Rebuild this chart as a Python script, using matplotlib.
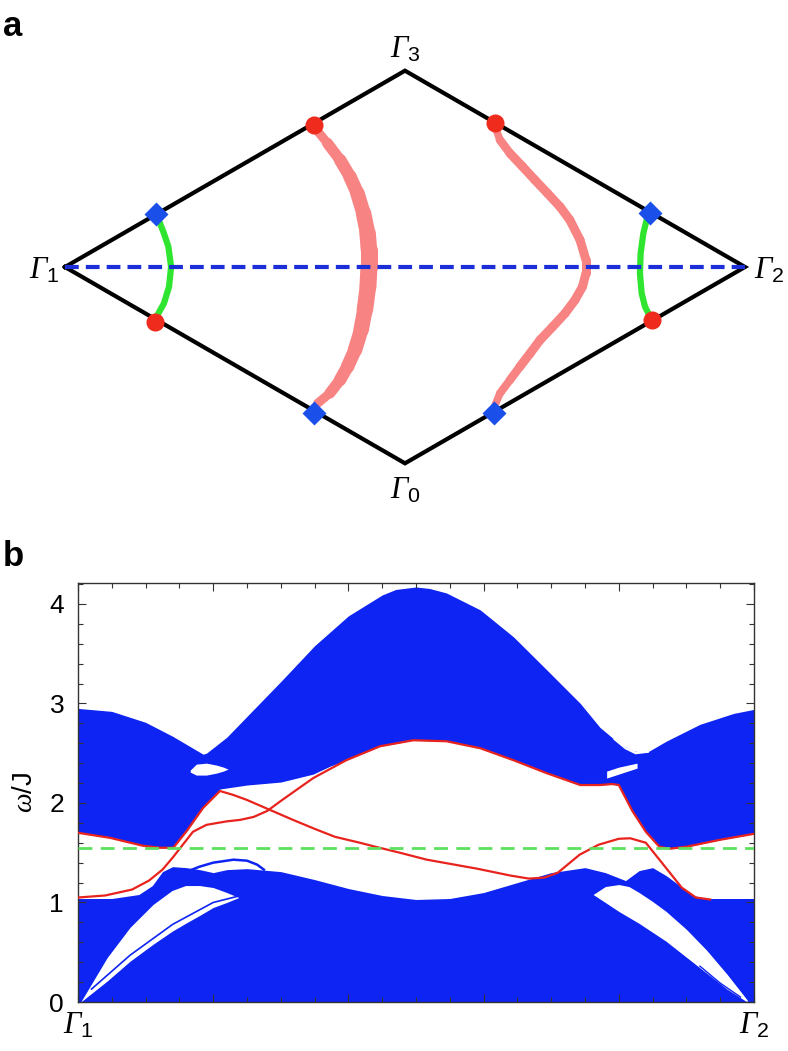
import numpy as np
import matplotlib
matplotlib.use("Agg")
import matplotlib.pyplot as plt
from matplotlib.collections import LineCollection

plt.rcParams['font.family'] = ['Liberation Sans', 'DejaVu Sans']
plt.rcParams['mathtext.fontset'] = 'custom'
plt.rcParams['mathtext.it'] = 'Liberation Serif:italic'
plt.rcParams['mathtext.rm'] = 'Liberation Serif:italic'
plt.rcParams['mathtext.sf'] = 'Liberation Sans'

# ---------------- Panel a data (Brillouin zone, Gamma1-Gamma2 half width = 1) ----------------
bz_x = [-1.0, 0.0, 1.0, 0.0, -1.0]
bz_y = [0.0, 0.5774, 0.0, -0.5774, 0.0]
bz_labels = ['$\\Gamma_{\\mathsf{1}}$', '$\\Gamma_{\\mathsf{3}}$',
             '$\\Gamma_{\\mathsf{2}}$', '$\\Gamma_{\\mathsf{0}}$']

pink_left_x = [-0.268, -0.228, -0.191, -0.162, -0.140, -0.122, -0.110, -0.106, -0.106, -0.109,
               -0.118, -0.129, -0.147, -0.169, -0.191, -0.221, -0.257]
pink_left_y = [0.413, 0.364, 0.315, 0.266, 0.217, 0.158, 0.099, 0.050, 0.001, -0.058,
               -0.126, -0.185, -0.244, -0.293, -0.332, -0.371, -0.401]
pink_left_w = [8, 10, 12, 13, 14, 15, 16, 17, 17, 17, 16, 15, 14, 13, 12, 10, 8]

pink_right_x = [0.265, 0.279, 0.309, 0.346, 0.382, 0.419, 0.456, 0.485, 0.515, 0.532, 0.532,
                0.522, 0.500, 0.471, 0.434, 0.397, 0.368, 0.338, 0.309, 0.279, 0.265]
pink_right_y = [0.413, 0.374, 0.334, 0.295, 0.256, 0.217, 0.177, 0.138, 0.079, 0.021, -0.019,
                -0.058, -0.097, -0.136, -0.176, -0.215, -0.254, -0.293, -0.332, -0.372, -0.406]
pink_right_w = [7, 8, 9, 9, 9, 9, 9, 9, 9, 9, 9, 9, 9, 9, 9, 9, 9, 9, 8, 8, 7]

green_left_x = [-0.731, -0.709, -0.696, -0.688, -0.694, -0.709, -0.728, -0.735]
green_left_y = [0.155, 0.099, 0.060, 0.001, -0.058, -0.107, -0.141, -0.161]
green_right_x = [0.721, 0.713, 0.701, 0.693, 0.691, 0.696, 0.706, 0.721, 0.725]
green_right_y = [0.158, 0.148, 0.099, 0.040, -0.019, -0.077, -0.117, -0.146, -0.156]

red_dots_x = [-0.268, 0.265, -0.735, 0.725]
red_dots_y = [0.418, 0.423, -0.161, -0.156]
blue_diam_x = [-0.731, 0.721, -0.269, 0.262]
blue_diam_y = [0.155, 0.158, -0.428, -0.428]

# ---------------- Panel b data ----------------
# upper bulk continuum
up_x = [0, 0.05, 0.10, 0.14, 0.17, 0.185, 0.19, 0.22, 0.25, 0.30, 0.35, 0.40, 0.45, 0.47, 0.50, 0.52,
        0.545, 0.595, 0.644, 0.693, 0.743, 0.772, 0.80, 0.822, 0.842, 0.87, 0.92, 0.97, 1.0]
up_top = [2.95, 2.92, 2.81, 2.67, 2.55, 2.49, 2.50, 2.66, 2.87, 3.22, 3.58, 3.88, 4.09, 4.145, 4.17, 4.155,
          4.11, 3.94, 3.67, 3.34, 3.00, 2.76, 2.60, 2.52, 2.51, 2.62, 2.79, 2.90, 2.94]
upb_x = [0, 0.047, 0.096, 0.121, 0.141, 0.161, 0.185, 0.21, 0.25, 0.30, 0.348, 0.373, 0.397, 0.447,
         0.496, 0.545, 0.595, 0.644, 0.693, 0.743, 0.772, 0.79, 0.80, 0.82, 0.84, 0.86, 0.875, 0.9, 0.95, 1.0]
up_bot = [1.70, 1.65, 1.57, 1.55, 1.55, 1.72, 1.95, 2.14, 2.18, 2.21, 2.29, 2.37, 2.43, 2.57,
          2.63, 2.62, 2.55, 2.43, 2.30, 2.18, 2.18, 2.19, 2.18, 1.92, 1.71, 1.56, 1.54, 1.56, 1.63, 1.69]
# gaps inside the upper continuum
hole1_x = [0.166, 0.175, 0.19, 0.205, 0.215, 0.222]
hole1_lo = [2.31, 2.28, 2.28, 2.30, 2.32, 2.34]
hole1_hi = [2.33, 2.39, 2.40, 2.38, 2.36, 2.34]
hole2_x = [0.782, 0.80, 0.827]
hole2_lo = [2.25, 2.29, 2.35]
hole2_hi = [2.32, 2.36, 2.40]
slit_x = [0.794, 0.81, 0.825, 0.843]
slit_y = [2.64, 2.55, 2.50, 2.515]

# lower bulk continuum
lo_x = [0, 0.05, 0.09, 0.11, 0.125, 0.14, 0.16, 0.18, 0.20, 0.22, 0.25, 0.30, 0.35, 0.40, 0.45, 0.50,
        0.55, 0.60, 0.65, 0.70, 0.75, 0.78, 0.81, 0.83, 0.85, 0.87, 0.89, 0.91, 0.93, 0.96, 1.0]
lo_top = [1.04, 1.04, 1.08, 1.17, 1.31, 1.36, 1.35, 1.33, 1.30, 1.33, 1.34, 1.31, 1.23, 1.14, 1.07, 1.03,
          1.04, 1.10, 1.20, 1.30, 1.35, 1.30, 1.22, 1.32, 1.35, 1.27, 1.17, 1.07, 1.04, 1.04, 1.04]
arc_x = [0.165, 0.18, 0.20, 0.23, 0.25, 0.265, 0.275]
arc_y = [1.32, 1.36, 1.40, 1.43, 1.42, 1.38, 1.33]
# gaps inside the lower continuum
wl_x = [0.004, 0.043, 0.077, 0.111, 0.139, 0.159, 0.18, 0.20, 0.22, 0.238]
wl_hi = [0.0, 0.445, 0.75, 0.98, 1.12, 1.17, 1.17, 1.15, 1.10, 1.05]
wl_lo = [0.0, 0.21, 0.41, 0.58, 0.71, 0.79, 0.87, 0.95, 1.00, 1.05]
wl_line_x = [0.02, 0.077, 0.14, 0.20, 0.235]
wl_line_y = [0.13, 0.47, 0.78, 1.00, 1.06]
wr_x = [0.762, 0.78, 0.80, 0.815, 0.83, 0.85, 0.87, 0.90, 0.93, 0.96, 0.99]
wr_hi = [1.08, 1.16, 1.18, 1.16, 1.10, 1.01, 0.91, 0.73, 0.52, 0.28, 0.02]
wr_lo = [1.08, 1.00, 0.91, 0.85, 0.79, 0.70, 0.61, 0.45, 0.29, 0.13, 0.0]
wr_line_x = [0.92, 0.95, 0.98]
wr_line_y = [0.36, 0.19, 0.05]

# edge states
edgeA_x = [0, 0.047, 0.096, 0.121, 0.141, 0.161, 0.185, 0.21, 0.23, 0.25, 0.284, 0.318, 0.35, 0.38,
           0.417, 0.44, 0.476, 0.516, 0.59, 0.64, 0.667, 0.69, 0.71, 0.742, 0.77, 0.80, 0.817, 0.84,
           0.866, 0.893, 0.914, 0.935]
edgeA_y = [1.70, 1.65, 1.57, 1.55, 1.55, 1.72, 1.95, 2.12, 2.08, 2.03, 1.93, 1.83, 1.74, 1.66,
           1.60, 1.56, 1.50, 1.43, 1.34, 1.27, 1.24, 1.25, 1.30, 1.48, 1.58, 1.64, 1.645, 1.60,
           1.38, 1.15, 1.05, 1.03]
edgeB_x = [0, 0.04, 0.08, 0.105, 0.125, 0.14, 0.155, 0.17, 0.19, 0.22, 0.24, 0.26, 0.28, 0.30, 0.325,
           0.348, 0.397, 0.447, 0.496, 0.545, 0.595, 0.644, 0.693, 0.743, 0.772, 0.79, 0.80, 0.82, 0.84,
           0.86, 0.875, 0.9, 0.95, 1.0]
edgeB_y = [1.05, 1.07, 1.13, 1.22, 1.33, 1.45, 1.58, 1.71, 1.78, 1.815, 1.83, 1.86, 1.92, 2.02, 2.14,
           2.25, 2.43, 2.57, 2.63, 2.62, 2.55, 2.43, 2.30, 2.18, 2.18, 2.19, 2.18, 1.92, 1.71,
           1.56, 1.54, 1.56, 1.63, 1.69]
fermi_level = 1.55

yticks = [0, 1, 2, 3, 4]
xtick_labels = ['$\\Gamma_{\\mathsf{1}}$', '$\\Gamma_{\\mathsf{2}}$']

# ---------------- figure ----------------
W, H = 788, 1051
fig = plt.figure(figsize=(W / 100, H / 100), dpi=100)

# panel a
axa = fig.add_axes([0, 1 - 520 / H, 1, 520 / H])
scale = 340.0
axa.set_xlim(-405 / scale, (W - 405) / scale)
axa.set_ylim(-(520 - 267) / scale, 267 / scale)
axa.axis('off')

axa.plot(bz_x, bz_y, color='black', lw=3.0, solid_joinstyle='miter', zorder=2)

def varwidth(ax, xs, ys, ws, color, z):
    pts = np.column_stack([xs, ys])
    segs = [pts[i:i + 2] for i in range(len(pts) - 1)]
    lw = [(ws[i] + ws[i + 1]) / 2 * 0.72 for i in range(len(pts) - 1)]
    lc = LineCollection(segs, linewidths=lw, colors=color, capstyle='round', joinstyle='round', zorder=z)
    ax.add_collection(lc)

varwidth(axa, pink_left_x, pink_left_y, pink_left_w, '#f78383', 3)
varwidth(axa, pink_right_x, pink_right_y, pink_right_w, '#f78383', 3)
axa.plot(green_left_x, green_left_y, color='#2fe52f', lw=4.5, solid_capstyle='round', zorder=3)
axa.plot(green_right_x, green_right_y, color='#2fe52f', lw=4.5, solid_capstyle='round', zorder=3)
axa.plot([bz_x[0], bz_x[2]], [0, 0], color='#1c2ed8', lw=3.0, dashes=(3.3, 1.7), zorder=4)
axa.plot(red_dots_x, red_dots_y, 'o', color='#ee2b1c', ms=13, mec='none', zorder=5)
axa.plot(blue_diam_x, blue_diam_y, 'D', color='#1b4fea', ms=12, mec='none', zorder=5)

fs_g = 22
axa.text(bz_x[0] - 0.015, bz_y[0] - 0.01, bz_labels[0], ha='right', va='center', fontsize=fs_g)
axa.text(bz_x[1], bz_y[1] + 0.018, bz_labels[1], ha='center', va='bottom', fontsize=fs_g)
axa.text(bz_x[2] + 0.025, bz_y[2] - 0.01, bz_labels[2], ha='left', va='center', fontsize=fs_g)
axa.text(bz_x[3], bz_y[3] - 0.035, bz_labels[3], ha='center', va='top', fontsize=fs_g)

fig.text(3 / W, 1 - 10 / H, 'a', fontsize=25, fontweight='bold', ha='left', va='top')
fig.text(3 / W, 1 - 540 / H, 'b', fontsize=25, fontweight='bold', ha='left', va='top')

# panel b
left, right, top, bottom = 78, 754, 583, 1002
axb = fig.add_axes([left / W, 1 - bottom / H, (right - left) / W, (bottom - top) / H])
blue = '#0e24f2'
axb.fill_between(up_x, 0, up_top, color=blue, lw=0, zorder=1)
axb.fill_between(upb_x, 0, up_bot, color='white', lw=0, zorder=1.1)
axb.fill_between(hole1_x, hole1_lo, hole1_hi, color='white', lw=0, zorder=1.2)
axb.fill_between(hole2_x, hole2_lo, hole2_hi, color='white', lw=0, zorder=1.2)
axb.plot(slit_x, slit_y, color='white', lw=1.6, zorder=1.2)

axb.fill_between(lo_x, 0, lo_top, color=blue, lw=0, zorder=1.3)
axb.plot(arc_x, arc_y, color=blue, lw=1.8, zorder=1.3)
axb.fill_between(wl_x, wl_lo, wl_hi, color='white', lw=0, zorder=1.4)
axb.fill_between(wr_x, wr_lo, wr_hi, color='white', lw=0, zorder=1.4)
axb.plot(wl_line_x, wl_line_y, color=blue, lw=1.2, zorder=1.5)
axb.plot(wr_line_x, wr_line_y, color=blue, lw=1.0, zorder=1.5)

axb.plot(edgeA_x, edgeA_y, color='#e8231d', lw=1.6, zorder=3)
axb.plot(edgeB_x, edgeB_y, color='#e8231d', lw=1.6, zorder=3)
axb.axhline(fermi_level, color='#5ee05e', lw=2.0, dashes=(5, 3), zorder=4)

axb.set_xlim(0, 1)
axb.set_ylim(0, 4.21)
axb.set_yticks(yticks)
axb.set_yticklabels([str(v) for v in yticks], fontsize=19)
axb.set_yticks(np.arange(0, 4.21, 0.2), minor=True)
axb.set_xticks([0, 0.2, 0.4, 0.6, 0.8, 1.0])
axb.set_xticklabels([xtick_labels[0], '', '', '', '', xtick_labels[1]], fontsize=22)
axb.set_xticks(np.arange(0, 1.001, 0.05), minor=True)
axb.tick_params(which='both', direction='in', top=True, right=True, color='#333333', width=0.8)
axb.tick_params(which='major', length=6, pad=6)
axb.tick_params(which='minor', length=3.5)
axb.tick_params(axis='y', which='major', pad=10)
for s in axb.spines.values():
    s.set_color('#333333')
    s.set_linewidth(1.0)
axb.set_ylabel('$\\omega\\mathsf{/J}$', fontsize=20, labelpad=8)

fig.savefig('out.png', dpi=100)
